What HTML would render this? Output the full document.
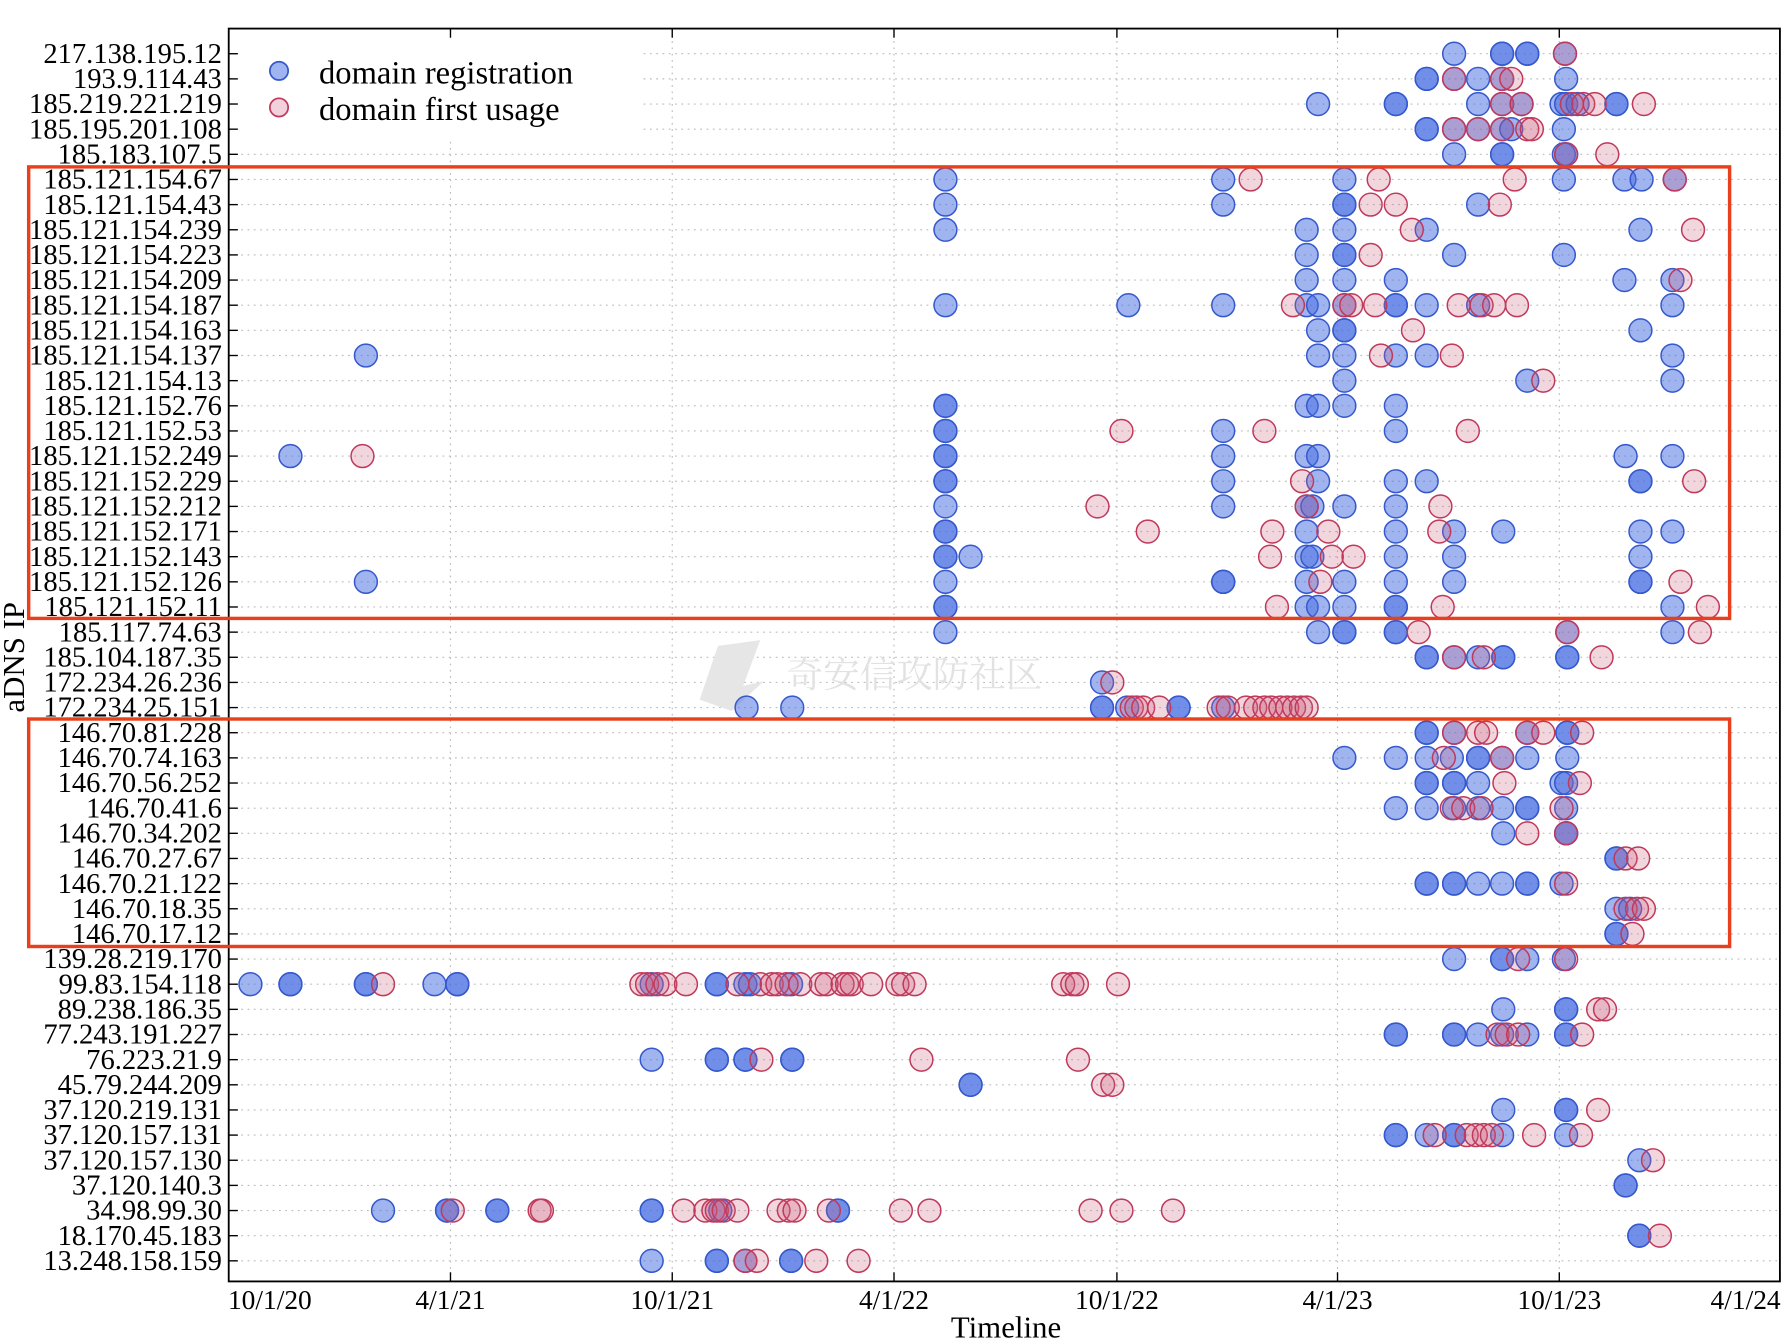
<!DOCTYPE html>
<html><head><meta charset="utf-8"><style>
html,body{margin:0;padding:0;background:#fff;}
svg{display:block;}
text{font-family:"Liberation Serif","Noto Serif CJK SC",serif;fill:#000;}
</style></head><body>
<svg id="s" width="1788" height="1342" viewBox="0 0 1564 1174" xmlns="http://www.w3.org/2000/svg">
<rect width="1564" height="1174" fill="#fff"/>
<g id="grid" stroke="#bbb" stroke-width="1" stroke-dasharray="1.5,4"></g>
<path d="M628 565 L665 560 L650 600 L668 596 L640 622 L612 612 Z" fill="#e6e6e6"/>
<text x="688" y="601" font-size="32" style="fill:#e2e2e2" font-family="Noto Sans CJK SC,sans-serif">奇安信攻防社区</text>
<g id="pts"></g>
<rect x="202" y="27" width="360" height="94" fill="#fff"/>
<circle cx="244" cy="62" r="8" fill="rgba(65,105,225,0.5)" stroke="#3558cc" stroke-width="1.5"/>
<circle cx="244" cy="94" r="8" fill="rgba(205,90,125,0.28)" stroke="#c0385a" stroke-width="1.5"/>
<text x="279" y="73" font-size="28.5">domain registration</text>
<text x="279" y="105" font-size="28.5">domain first usage</text>
<g id="ax"></g>
<rect x="200" y="25" width="1357" height="1096" fill="none" stroke="#000" stroke-width="1.6"/>
<rect x="25" y="146" width="1488" height="395" fill="none" stroke="#e8401c" stroke-width="3"/>
<rect x="25" y="629" width="1488" height="199" fill="none" stroke="#e8401c" stroke-width="3"/>
<text x="880" y="1170" font-size="27" text-anchor="middle">Timeline</text>
<text transform="translate(21,575) rotate(-90)" font-size="27" text-anchor="middle">aDNS IP</text>
</svg>
<script>
var NS="http://www.w3.org/2000/svg";
function el(p,t,a,txt){var e=document.createElementNS(NS,t);for(var k in a)e.setAttribute(k,a[k]);if(txt)e.textContent=txt;p.appendChild(e);return e;}
var labels=["217.138.195.12","193.9.114.43","185.219.221.219","185.195.201.108","185.183.107.5","185.121.154.67","185.121.154.43","185.121.154.239","185.121.154.223","185.121.154.209","185.121.154.187","185.121.154.163","185.121.154.137","185.121.154.13","185.121.152.76","185.121.152.53","185.121.152.249","185.121.152.229","185.121.152.212","185.121.152.171","185.121.152.143","185.121.152.126","185.121.152.11","185.117.74.63","185.104.187.35","172.234.26.236","172.234.25.151","146.70.81.228","146.70.74.163","146.70.56.252","146.70.41.6","146.70.34.202","146.70.27.67","146.70.21.122","146.70.18.35","146.70.17.12","139.28.219.170","99.83.154.118","89.238.186.35","77.243.191.227","76.223.21.9","45.79.244.209","37.120.219.131","37.120.157.131","37.120.157.130","37.120.140.3","34.98.99.30","18.170.45.183","13.248.158.159"];
var data=[
"B1272 B1314 B1314 B1336 B1336 R1369 B1369",
"B1248 B1248 R1272 B1272 B1293 B1314 R1314 R1322 B1370",
"B1153 B1221 B1221 B1293 R1314 B1314 B1331 R1331 B1366 B1370 R1375 B1380 R1385 R1395 B1414 B1414 R1438",
"B1248 B1248 R1272 B1272 B1293 R1293 B1314 R1314 B1322 R1336 R1340 B1368",
"B1272 B1314 B1314 B1368 R1370 B1370 R1406",
"B827 B1070 R1094 B1176 R1206 R1325 B1368 B1421 B1436 R1465 B1465",
"B827 B1070 B1176 B1176 R1199 R1221 B1293 R1312",
"B827 B1143 B1176 R1235 B1248 B1435 R1481",
"B1143 B1176 B1176 R1199 B1272 B1368",
"B1143 B1176 B1221 B1421 B1463 R1470",
"B827 B987 B1070 R1131 B1143 B1153 B1176 R1176 R1182 R1203 B1221 B1221 B1248 R1276 B1293 R1296 R1307 R1327 B1463",
"B1153 B1176 B1176 R1236 B1435",
"B320 B1153 B1176 R1208 B1221 B1248 R1270 B1463",
"B1176 B1336 R1350 B1463",
"B827 B827 B1143 B1153 B1176 B1221",
"B827 B827 R981 B1070 R1106 B1221 R1284",
"B254 R317 B827 B827 B1070 B1143 B1153 B1422 B1463",
"B827 B827 B1070 R1139 B1153 B1221 B1248 B1435 B1435 R1482",
"B827 R960 B1070 B1143 R1143 B1148 B1176 B1221 R1260",
"B827 B827 R1004 R1113 B1143 R1162 B1221 R1259 B1272 B1315 B1435 B1463",
"B827 B827 B849 R1111 B1143 B1148 R1165 R1184 B1221 B1272 B1435",
"B320 B827 B1070 B1070 B1143 R1155 B1176 B1221 B1272 B1435 B1435 R1470",
"B827 B827 R1117 B1143 B1153 B1176 B1221 B1221 R1262 B1463 R1494",
"B827 B1153 B1176 B1176 B1221 B1221 R1241 R1371 B1371 B1463 R1487",
"B1248 B1248 R1272 B1272 B1293 R1298 B1315 B1315 B1371 B1371 R1401",
"B964 R973",
"B653 B693 B964 B964 B986 R990 R994 R1000 R1014 B1031 B1031 R1066 B1070 R1074 R1090 R1098 R1106 R1112 R1120 R1126 R1132 R1138 R1143",
"B1248 B1248 R1272 B1272 R1293 R1300 B1336 R1336 R1350 B1371 B1371 R1384",
"B1176 B1221 B1248 R1263 B1270 B1293 B1293 R1314 B1314 B1336 B1371",
"B1248 B1248 B1272 B1272 B1293 R1316 B1366 B1370 R1382",
"B1221 B1248 R1270 B1272 R1280 B1293 R1296 B1314 B1336 B1336 R1366 B1370",
"B1315 R1336 B1370 R1370 B1370",
"B1414 B1414 R1422 R1433",
"B1248 B1248 B1272 B1272 B1293 B1314 B1336 B1336 B1366 R1370",
"B1414 R1422 B1426 R1432 R1438",
"B1414 B1414 R1428",
"B1272 B1314 B1314 R1328 B1336 B1368 R1370",
"B219 B254 B254 B320 B320 R335 B380 B400 B400 R561 R566 B570 R575 R582 R600 B627 B627 R645 B652 B656 R665 R675 R680 R688 B692 R700 R718 R723 R737 R741 R745 R762 R785 R790 R800 R930 R938 R942 R978",
"B1315 B1370 B1370 R1398 R1404",
"B1221 B1221 B1272 B1272 B1293 R1310 B1314 R1318 R1328 B1336 B1370 B1370 R1384",
"B570 B627 B627 B652 B652 R666 B693 B693 R806 R943",
"B849 B849 R965 R973",
"B1315 B1370 B1370 R1398",
"B1221 B1221 B1248 R1255 B1272 B1272 R1283 R1291 R1298 R1305 B1314 R1342 B1370 R1383",
"B1434 R1446",
"B1422 B1422",
"B335 B391 B391 R396 B435 B435 R472 R474 B570 B570 R598 R617 R624 R627 B630 R633 R645 R681 R690 R695 R725 B733 B733 R788 R813 R954 R981 R1026",
"B1434 B1434 R1452",
"B570 B627 B627 R652 B652 R662 B692 B692 R714 R751"];
var grid=document.getElementById("grid"),pts=document.getElementById("pts"),ax=document.getElementById("ax");
var xt=[[200,"10/1/20",236],[394,"4/1/21",394],[588,"10/1/21",588],[782,"4/1/22",782],[977,"10/1/22",977],[1170,"4/1/23",1170],[1364,"10/1/23",1364],[1557,"4/1/24",1527]];
xt.forEach(function(t){
 el(grid,"line",{x1:t[0],y1:25,x2:t[0],y2:1121});
 el(ax,"line",{x1:t[0],y1:25,x2:t[0],y2:33,stroke:"#000","stroke-width":1.2});
 el(ax,"line",{x1:t[0],y1:1121,x2:t[0],y2:1113,stroke:"#000","stroke-width":1.2});
 el(ax,"text",{x:t[2],y:1145,"font-size":24,"text-anchor":"middle"},t[1]);
});
var blues=[],reds=[];
labels.forEach(function(l,i){
 var y=47+22*i;
 el(grid,"line",{x1:200,y1:y,x2:1557,y2:y});
 el(ax,"line",{x1:200,y1:y,x2:208,y2:y,stroke:"#000","stroke-width":1.2});
 el(ax,"text",{x:194,y:y+8,"font-size":25,"text-anchor":"end"},l);
 data[i].split(" ").forEach(function(p){var x=+p.slice(1);(p[0]=="B"?blues:reds).push([x,y]);});
});
blues.forEach(function(p){el(pts,"circle",{cx:p[0],cy:p[1],r:10,fill:"rgba(65,105,225,0.5)",stroke:"#3558cc","stroke-width":1.3});});
reds.forEach(function(p){el(pts,"circle",{cx:p[0],cy:p[1],r:10,fill:"rgba(205,90,125,0.25)",stroke:"#c0385a","stroke-width":1.3});});
</script>
</body></html>
